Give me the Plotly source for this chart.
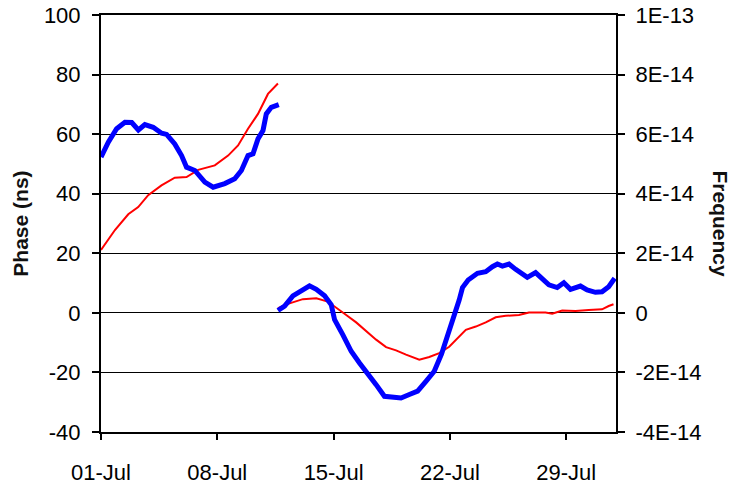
import pandas as pd
import plotly.graph_objects as go

# Time axis: days elapsed since 01-Jul
START = pd.Timestamp("2004-07-01")
END = pd.Timestamp("2004-08-01")

# Phase (ns), first run and second run after the reset
phase_day_a = [0, 0.84, 1.64, 2.24, 2.84, 3.64, 4.44, 5.15, 5.85, 6.85, 7.65, 8.25,
               8.85, 9.45, 10.05, 10.65]
phase_ns_a = [21.1, 27.8, 33.1, 35.5, 39.5, 42.8, 45.4, 45.6, 48.0, 49.5, 52.8, 56.2,
              61.8, 66.8, 73.5, 77.0]

phase_day_b = [10.65, 11.35, 12.15, 12.96, 13.65, 14.16, 14.76, 15.36, 15.96, 16.56,
               17.16, 17.76, 18.36, 19.16, 19.76, 20.36, 20.96, 21.56, 21.96, 22.56,
               23.16, 23.76, 24.36, 25.16, 25.76, 26.76, 27.16, 27.76, 28.56, 29.36,
               30.16, 30.56, 30.85]
phase_ns_b = [1.6, 3.2, 4.6, 4.9, 3.8, 1.6, -0.7, -3.2, -6.2, -9.0,
              -11.5, -12.6, -14.0, -15.7, -14.8, -13.5, -11.4, -7.8, -5.7, -4.6,
              -3.2, -1.5, -1.0, -0.7, 0.1, 0.1, -0.3, 0.8, 0.6, 1.0,
              1.2, 2.3, 2.9]

# Fractional frequency, in units of 1E-14
FREQ_UNIT = 1e-14
freq_day_a = [0, 0.44, 0.94, 1.44, 1.85, 2.25, 2.64, 3.14, 3.65, 3.95, 4.44, 4.85,
              5.15, 5.65, 6.25, 6.75, 7.45, 8.05, 8.45, 8.85, 9.15, 9.45, 9.75, 9.95,
              10.25, 10.7]
freq_a = [5.23, 5.73, 6.18, 6.40, 6.39, 6.14, 6.32, 6.23, 6.03, 5.99, 5.67, 5.28,
          4.89, 4.78, 4.39, 4.22, 4.34, 4.50, 4.78, 5.28, 5.34, 5.84, 6.12, 6.68,
          6.90, 6.99]

freq_day_b = [10.65, 11.05, 11.55, 12.05, 12.55, 12.96, 13.46, 13.86, 14.06, 14.56,
              15.06, 15.56, 16.06, 16.56, 17.06, 17.56, 18.06, 18.56, 19.06, 19.56,
              20.06, 20.5, 20.95, 21.3, 21.56, 21.76, 22.1, 22.66, 23.16, 23.56,
              23.86, 24.16, 24.56, 24.96, 25.36, 25.66, 26.16, 26.56, 26.96, 27.46,
              27.86, 28.26, 28.86, 29.26, 29.76, 30.16, 30.56, 30.92]
freq_b = [0.08, 0.23, 0.57, 0.75, 0.91, 0.79, 0.57, 0.27, -0.23, -0.74,
          -1.29, -1.68, -2.02, -2.41, -2.80, -2.82, -2.86, -2.74, -2.63, -2.30,
          -1.96, -1.38, -0.65, 0.04, 0.43, 0.85, 1.10, 1.33, 1.38, 1.55,
          1.64, 1.57, 1.64, 1.46, 1.33, 1.19, 1.35, 1.13, 0.94, 0.85,
          1.01, 0.79, 0.90, 0.77, 0.69, 0.71, 0.88, 1.16]

phase_ticks = [-40, -20, 0, 20, 40, 60, 80, 100]
phase_tick_text = ["-40", "-20", "0", "20", "40", "60", "80", "100"]
freq_tick_vals = [-4, -2, 0, 2, 4, 6, 8, 10]
freq_tick_text = ["-4E-14", "-2E-14", "0", "2E-14", "4E-14", "6E-14", "8E-14", "1E-13"]


def to_dates(days):
    return [START + pd.Timedelta(days=d) for d in days]


def join(xa, ya, xb, yb):
    # two runs in one trace, separated by a gap
    return to_dates(xa) + [None] + to_dates(xb), list(ya) + [None] + list(yb)


px, py = join(phase_day_a, phase_ns_a, phase_day_b, phase_ns_b)
fx, fy = join(freq_day_a, freq_a, freq_day_b, freq_b)
fy = [v * FREQ_UNIT if v is not None else None for v in fy]

fig = go.Figure()
fig.add_trace(go.Scatter(x=px, y=py, mode="lines", name="Phase",
                         line=dict(color="#ff0000", width=2), connectgaps=False))
fig.add_trace(go.Scatter(x=fx, y=fy, mode="lines", name="Frequency", yaxis="y2",
                         line=dict(color="#0000ff", width=5), connectgaps=False))

FONT = "Liberation Sans, Arial, sans-serif"
fig.update_layout(
    width=731, height=485,
    margin=dict(l=101, r=115, t=15, b=53),
    plot_bgcolor="white", paper_bgcolor="white",
    showlegend=False,
    font=dict(family=FONT, size=22, color="black"),
    xaxis=dict(
        type="date", range=[START, END], automargin=False,
        tick0=START, dtick=7 * 86400000, tickformat="%d-%b",
        ticks="outside", ticklen=6, tickwidth=2, tickcolor="black",
        showline=True, linewidth=2, linecolor="black", mirror=True,
        showgrid=False, zeroline=False, ticklabelstandoff=14,
    ),
    yaxis=dict(
        range=[-40, 100], tickvals=phase_ticks, ticktext=phase_tick_text,
        automargin=False,
        ticks="outside", ticklen=7, tickwidth=2, tickcolor="black",
        showline=True, linewidth=2, linecolor="black",
        showgrid=True, gridcolor="black", gridwidth=1, zeroline=False,
        ticklabelstandoff=7,
    ),
    yaxis2=dict(
        overlaying="y", side="right", automargin=False,
        range=[-4 * FREQ_UNIT, 10 * FREQ_UNIT],
        tickvals=[v * FREQ_UNIT for v in freq_tick_vals], ticktext=freq_tick_text,
        ticks="outside", ticklen=7, tickwidth=2, tickcolor="black",
        showline=True, linewidth=2, linecolor="black",
        showgrid=False, zeroline=False, ticklabelstandoff=6,
    ),
    annotations=[
        dict(text="<b>Phase (ns)</b>", xref="paper", yref="paper",
             x=-0.157, y=0.5, xanchor="center", yanchor="middle",
             textangle=-90, showarrow=False,
             font=dict(family=FONT, size=21, color="#111")),
        dict(text="<b>Frequency</b>", xref="paper", yref="paper",
             x=1.202, y=0.5, xanchor="center", yanchor="middle",
             textangle=90, showarrow=False,
             font=dict(family=FONT, size=21, color="#111")),
    ],
)

fig.write_html("out.html")
